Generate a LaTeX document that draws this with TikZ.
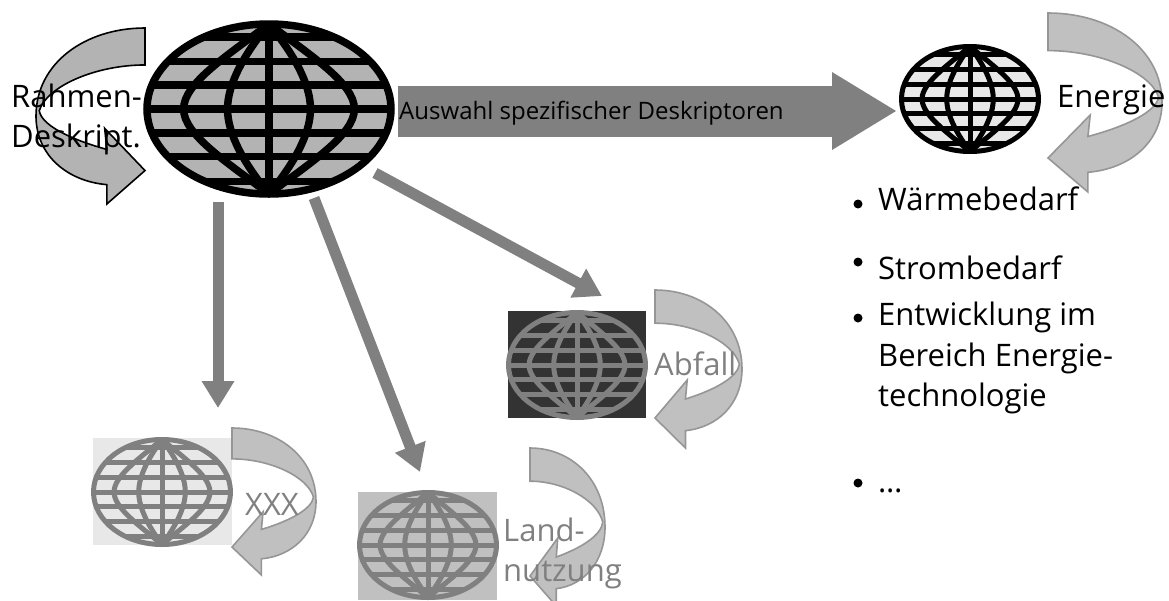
\documentclass[tikz,border=0pt]{standalone}
\usepackage{fontspec}
\setmainfont{Open Sans}
\usetikzlibrary{arrows.meta}
\definecolor{gA}{HTML}{B3B3B3}
\definecolor{gB}{HTML}{E8E8E8}
\definecolor{gC}{HTML}{808080}
\definecolor{gD}{HTML}{333333}
\definecolor{gE}{HTML}{C0C0C0}
\definecolor{gF}{HTML}{969696}
\newcommand{\globe}[7]{% name,cx,cy,rx,ry,lw,fill,line passed via #7={line colour}
  \begin{scope}[shift={(#2,#3)},x={(#4pt,0pt)},y={(0pt,#5pt)},line width=#6pt]
    \coordinate (#1) at (0,0);
    \fill[#7!0!white,opacity=0] (0,0) circle (0);
  \end{scope}}
\newcommand{\globeart}[8]{%
  \begin{scope}[shift={(#2pt,-#3pt)},x={(#4pt,0pt)},y={(0pt,#5pt)},line width=#6pt,draw=#8]
    \coordinate (#1) at (0,0);
    \filldraw[fill=#7] (0,0) circle[x radius=1,y radius=1];
    \foreach \v/\u in {0/1,0.28/0.96,0.56/0.83,0.85/0.53}{
      \draw (-\u,\v) -- (\u,\v);
      \draw (-\u,-\v) -- (\u,-\v);}
    \draw (0,-1) -- (0,1);
    \foreach \s in {1,-1}{
      \draw (0,1) .. controls (\s*0.35,0.62) and (\s*0.7,0.3) .. (\s*0.7,0)
             .. controls (\s*0.7,-0.3) and (\s*0.35,-0.62) .. (0,-1);
      \draw (0,1) .. controls (\s*0.2,0.65) and (\s*0.34,0.3) .. (\s*0.34,0)
             .. controls (\s*0.34,-0.3) and (\s*0.2,-0.65) .. (0,-1);}
  \end{scope}}
% curved block arrow: x0,y0 (pixel, y down), w (signed), h, line colour, line width
\newcommand{\bend}[6]{%
  \begin{scope}[shift={(#1pt,-#2pt)},x={(#3pt,0pt)},y={(0pt,-#4pt)}]
    \filldraw[fill=#5,draw=#6,line width=1.6pt,line join=miter]
      (0,0) .. controls (0.55,0) and (1,0.2) .. (1,0.5)
      .. controls (1,0.72) and (0.72,0.87) .. (0.35,0.89)
      -- (0.35,1) -- (0,0.81) -- (0.37,0.57) -- (0.35,0.69)
      .. controls (0.7,0.63) and (0.95,0.55) .. (0.97,0.47)
      .. controls (0.9,0.33) and (0.45,0.21) .. (0,0.21) -- cycle;
  \end{scope}}
\tikzset{
  lbl/.style={anchor=base west,inner sep=0pt,font=\fontsize{31}{31}\selectfont},
  lblg/.style={lbl,text=gC},
  conn/.style={draw=gC,line width=11pt,-{Triangle[length=27pt,width=31pt]},shorten <=0pt},
  bigconn/.style={draw=gC,line width=51pt,-{Triangle[length=65pt,width=73pt]}},
  dot/.style={circle,fill=black,inner sep=0pt,minimum size=9pt}
}
\begin{document}
\begin{tikzpicture}[x=1pt,y=-1pt]
\useasboundingbox (0,0) rectangle (1169,600);
\clip (0,0) rectangle (1169,600);
\fill[white] (0,0) rectangle (1169,600);
% backgrounds
\fill[gD] (508,311) rectangle (646,418);
\fill[gB] (93,438) rectangle (232,545);
\fill[gE] (358,492) rectangle (497,600);
% curved arrows
\bend{145}{28}{-109}{176}{gA}{black}
\bend{1048}{13}{114}{179}{gE}{gF}
\bend{655}{290}{87}{158}{gE}{gF}
\bend{232}{428}{84}{147}{gE}{gF}
\bend{530}{448}{75}{158}{gE}{gF}
% globes
\globeart{g0}{269}{109}{122}{85}{7.5}{gA}{black}
\globeart{g1}{970}{99}{68.5}{52.5}{5}{gB}{black}
\globeart{g2}{577}{365}{68.5}{52.5}{5}{gD}{gC}
\globeart{g3}{162}{492}{68.5}{52.5}{5}{gB}{gC}
\globeart{g4}{428}{545}{68.5}{52.5}{5}{gE}{gC}
% connectors
\coordinate (m0) at (398,111);
\coordinate (m1) at (897,111);
\coordinate (a1) at (218,202);
\coordinate (a1e) at (218,408);
\coordinate (a2) at (314,198);
\coordinate (a2e) at (420,472);
\coordinate (a3) at (375,173);
\coordinate (a3e) at (602,296);
\draw[bigconn] (m0) -- (m1);
\draw[conn] (a1) -- (a1e);
\draw[conn] (a2) -- (a2e);
\draw[conn] (a3) -- (a3e);
% texts
\node[anchor=base west,inner sep=0pt,font=\fontsize{24}{24}\selectfont] (t0) at (399,119) {Auswahl spezifischer Deskriptoren};
\node[lbl] (r1) at (11,107) {Rahmen-};
\node[lbl] (r2) at (11,147) {Deskript.};
\node[lbl] (e1) at (1057,107) {Energie};
\node[lblg] (ab) at (654,375) {Abfall};
\node[lblg] (xx) at (245,515) {XXX};
\node[lblg] (l1) at (503,541) {Land-};
\node[lblg] (l2) at (503,581) {nutzung};
\node[lbl] (b1) at (878,210) {Wärmebedarf};
\node[lbl] (b2) at (878,279) {Strombedarf};
\node[lbl] (b3) at (878,325) {Entwicklung im};
\node[lbl] (b4) at (878,366) {Bereich Energie-};
\node[lbl] (b5) at (878,406) {technologie};
\node[lbl] (b6) at (878,492) {…};
\node[dot] (d1) at (858,204) {};
\node[dot] (d2) at (858,262) {};
\node[dot] (d3) at (858,318) {};
\node[dot] (d4) at (858,483) {};
\end{tikzpicture}
\end{document}
